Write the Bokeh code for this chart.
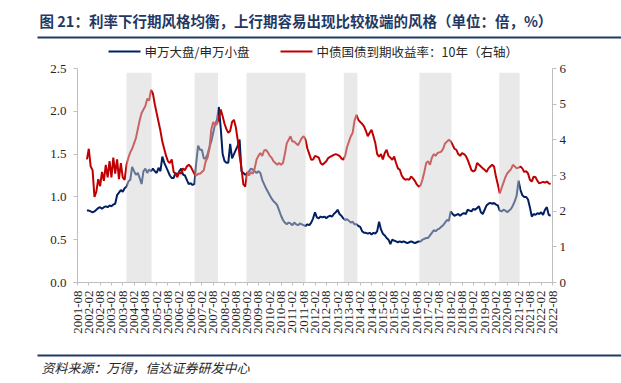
import numpy as np
from bokeh.plotting import figure
from bokeh.layouts import column
from bokeh.models import Range1d, LinearAxis, FixedTicker, PrintfTickFormatter
from bokeh.core.properties import value
from bokeh.embed import file_html
from bokeh.resources import INLINE

# ---------------- data (monthly) ----------------
start_month = "2002-01"

ratio = [  # 申万大盘/申万小盘 (left axis)
    0.84, 0.84, 0.83, 0.82, 0.83, 0.85, 0.87, 0.88, 0.86, 0.88, 0.89, 0.88,  # 2002
    0.90, 0.89, 0.91, 0.92, 1.02, 1.05, 1.08, 1.06, 1.10, 1.12, 1.18, 1.20,  # 2003
    1.35, 1.30, 1.26, 1.28, 1.22, 1.15, 1.30, 1.33, 1.28, 1.32, 1.30, 1.33,  # 2004
    1.30, 1.28, 1.34, 1.30, 1.47, 1.40, 1.35, 1.30, 1.25, 1.22, 1.22, 1.28,  # 2005
    1.25, 1.30, 1.33, 1.26, 1.25, 1.20, 1.15, 1.16, 1.14, 1.15, 1.40, 1.60,  # 2006
    1.55, 1.55, 1.45, 1.45, 1.50, 1.58, 1.65, 1.75, 1.85, 1.90, 2.05, 1.80,  # 2007
    1.50, 1.42, 1.40, 1.40, 1.62, 1.45, 1.50, 1.55, 1.60, 1.67, 1.30, 1.28,  # 2008
    1.26, 1.27, 1.30, 1.33, 1.32, 1.30, 1.28, 1.30, 1.28, 1.20, 1.15, 1.10,  # 2009
    1.06, 1.02, 0.98, 0.95, 0.93, 0.90, 0.84, 0.78, 0.73, 0.70, 0.68, 0.70,  # 2010
    0.69, 0.67, 0.70, 0.68, 0.67, 0.69, 0.68, 0.67, 0.66, 0.68, 0.67, 0.70,  # 2011
    0.75, 0.82, 0.76, 0.75, 0.77, 0.76, 0.77, 0.75, 0.77, 0.78, 0.77, 0.80,  # 2012
    0.82, 0.85, 0.80, 0.78, 0.75, 0.73, 0.74, 0.72, 0.70, 0.71, 0.68, 0.68,  # 2013
    0.66, 0.65, 0.60, 0.58, 0.58, 0.57, 0.58, 0.56, 0.58, 0.57, 0.60, 0.71,  # 2014
    0.62, 0.57, 0.55, 0.52, 0.50, 0.45, 0.50, 0.49, 0.48, 0.47, 0.48, 0.47,  # 2015
    0.48, 0.47, 0.46, 0.47, 0.48, 0.47, 0.46, 0.47, 0.48, 0.48, 0.50, 0.51,  # 2016
    0.52, 0.52, 0.55, 0.58, 0.61, 0.60, 0.62, 0.63, 0.65, 0.67, 0.70, 0.73,  # 2017
    0.72, 0.83, 0.80, 0.78, 0.79, 0.80, 0.78, 0.80, 0.81, 0.80, 0.85, 0.84,  # 2018
    0.83, 0.86, 0.85, 0.87, 0.89, 0.82, 0.80, 0.85, 0.90, 0.92, 0.93, 0.92,  # 2019
    0.93, 0.91, 0.90, 0.84, 0.83, 0.85, 0.84, 0.82, 0.84, 0.86, 0.90, 0.95,  # 2020
    1.02, 1.19, 1.08, 1.02, 1.00, 1.00, 0.97, 0.88, 0.77, 0.80, 0.79, 0.81,  # 2021
    0.80, 0.82, 0.79, 0.85, 0.88, 0.79, 0.78,                                # 2022
]

yield10 = [  # 中债国债到期收益率:10年 (right axis, %)
    3.45, 3.75, 3.25, 3.15, 2.40, 2.55, 2.90, 2.70, 3.10, 2.85, 3.30, 2.95,  # 2002
    3.40, 2.95, 3.50, 3.05, 3.45, 2.90, 3.35, 2.95, 2.88, 3.30, 3.50, 3.65,  # 2003
    3.75, 3.90, 4.05, 4.30, 4.55, 4.75, 4.85, 4.95, 5.15, 5.10, 5.40, 5.30,  # 2004
    5.00, 4.75, 4.50, 4.25, 3.95, 3.75, 3.55, 3.40, 3.35, 3.45, 3.10, 3.05,  # 2005
    2.95, 3.10, 3.05, 3.20, 3.15, 3.25, 3.30, 3.25, 3.15, 3.05, 3.00, 3.05,  # 2006
    3.05, 3.10, 3.15, 3.40, 3.50, 3.75, 4.30, 4.50, 4.40, 4.45, 4.60, 4.85,  # 2007
    4.66, 4.45, 4.30, 4.20, 4.25, 4.50, 4.56, 4.35, 4.00, 3.55, 3.20, 2.75,  # 2008
    2.69, 3.10, 3.00, 3.10, 3.05, 3.20, 3.45, 3.55, 3.63, 3.55, 3.70, 3.72,  # 2009
    3.65, 3.55, 3.50, 3.40, 3.35, 3.30, 3.35, 3.30, 3.35, 3.60, 3.90, 4.00,  # 2010
    4.10, 3.95, 3.95, 3.90, 3.85, 3.95, 4.05, 4.10, 4.00, 3.75, 3.60, 3.44,  # 2011
    3.45, 3.55, 3.53, 3.50, 3.35, 3.30, 3.35, 3.40, 3.49, 3.52, 3.55, 3.58,  # 2012
    3.60, 3.58, 3.55, 3.48, 3.44, 3.55, 3.80, 3.95, 4.10, 4.20, 4.55, 4.70,  # 2013
    4.56, 4.50, 4.45, 4.38, 4.25, 4.10, 4.20, 4.28, 4.10, 3.91, 3.60, 3.53,  # 2014
    3.60, 3.45, 3.63, 3.72, 3.55, 3.50, 3.44, 3.53, 3.35, 3.20, 3.16, 3.00,  # 2015
    2.92, 2.88, 2.90, 2.88, 2.97, 2.92, 2.85, 2.75, 2.69, 2.72, 2.88, 3.10,  # 2016
    3.35, 3.40, 3.30, 3.50, 3.60, 3.55, 3.63, 3.65, 3.67, 3.75, 3.90, 3.95,  # 2017
    4.00, 3.96, 3.86, 3.75, 3.72, 3.60, 3.55, 3.63, 3.60, 3.55, 3.44, 3.30,  # 2018
    3.15, 3.11, 3.15, 3.35, 3.30, 3.25, 3.20, 3.16, 3.10, 3.20, 3.25, 3.30,  # 2019
    3.25, 2.97, 2.75, 2.50, 2.65, 2.80, 2.95, 3.06, 3.12, 3.18, 3.30, 3.25,  # 2020
    3.20, 3.22, 3.25, 3.20, 3.10, 3.12, 3.06, 2.88, 2.83, 2.97, 2.95, 2.85,  # 2021
    2.78, 2.80, 2.82, 2.80, 2.83, 2.78, 2.76,                                # 2022
]

# rising-rate periods (shaded)
shade_start = ["2003-10-01", "2006-10-05", "2009-01-20", "2013-05-10", "2016-09-12", "2020-03-22"]
shade_end = ["2004-11-10", "2007-10-18", "2011-09-01", "2013-12-15", "2018-02-12", "2021-02-18"]

tick_labels = [
    "2001-08", "2002-02", "2002-08", "2003-02", "2003-08", "2004-02", "2004-08",
    "2005-02", "2005-08", "2006-02", "2006-08", "2007-02", "2007-08", "2008-02",
    "2008-08", "2009-02", "2009-08", "2010-02", "2010-08", "2011-02", "2011-08",
    "2012-02", "2012-08", "2013-02", "2013-08", "2014-02", "2014-08", "2015-02",
    "2015-08", "2016-02", "2016-08", "2017-02", "2017-08", "2018-02", "2018-08",
    "2019-02", "2019-08", "2020-02", "2020-08", "2021-02", "2021-08", "2022-02",
    "2022-08",
]

title_text = "图 21：利率下行期风格均衡，上行期容易出现比较极端的风格（单位：倍，%）"
legend_blue = "申万大盘/申万小盘"
legend_red = "中债国债到期收益率：10年（右轴）"
source_text = "资料来源：万得，信达证券研发中心"


def month_index(s):
    """months since 2001-08 (the first axis tick)"""
    y, m = int(s[:4]), int(s[5:7])
    d = int(s[8:10]) if len(s) > 7 else 1
    return (y - 2001) * 12 + (m - 8) + (d - 1) / 30.0


m0 = month_index(start_month)
xs_ratio = m0 + np.arange(len(ratio))
xs_yield = m0 + np.arange(len(yield10))
tick_pos = [month_index(t) for t in tick_labels]

NAVY = "#002060"
RED = "#C00000"
AXIS = "#BFBFBF"
TITLE_C = "#1F3864"
TXT = "#262626"
W = 621
CJK = value("Noto Sans CJK SC")


def blank(height):
    f = figure(width=W, height=height, x_range=Range1d(0, W), y_range=Range1d(height, 0),
               output_backend="svg", toolbar_location=None, title=None,
               x_axis_location=None, y_axis_location=None, min_border=0)
    f.grid.visible = False
    f.outline_line_color = None
    f.frame_align = False
    return f


# page-y layout
HEAD_END = 60       # header figure: 0 .. 60
FRAME_TOP = 68      # plot frame top
FRAME_BOT = 282     # plot frame bottom
MAIN_END = 345      # main figure: 60 .. 345
PAGE_END = 382      # footer figure: 345 .. 382
LEG_Y = 51

# ---------------- header: title, rule, legend ----------------
head = blank(HEAD_END)
head.text(x=[39], y=[20], text=[title_text], text_font=CJK, text_font_style="bold",
          text_font_size="14.5px", text_color=TITLE_C, text_baseline="middle", text_align="left")
head.line([37, W], [37, 37], line_color=TITLE_C, line_width=2)
head.line([108, 140], [LEG_Y, LEG_Y], line_color=NAVY, line_width=2)
head.text(x=[144], y=[LEG_Y], text=[legend_blue], text_font=CJK, text_font_size="12.5px",
          text_color=TXT, text_baseline="middle", text_align="left")
head.line([280, 312], [LEG_Y, LEG_Y], line_color=RED, line_width=2)
head.text(x=[316], y=[LEG_Y], text=[legend_red], text_font=CJK, text_font_size="12.5px",
          text_color=TXT, text_baseline="middle", text_align="left")

# ---------------- main chart ----------------
p = figure(width=W, height=MAIN_END - HEAD_END, output_backend="svg", toolbar_location=None,
           title=None, x_range=Range1d(tick_pos[0], tick_pos[-1]), y_range=Range1d(0, 2.5),
           min_border_left=77, min_border_right=W - 552, min_border_top=FRAME_TOP - HEAD_END,
           min_border_bottom=MAIN_END - FRAME_BOT)
p.frame_align = False
p.extra_y_ranges = {"r": Range1d(0, 6)}
p.xgrid.visible = False
p.ygrid.visible = False
p.outline_line_color = None

p.line(xs_ratio, ratio, line_color=NAVY, line_width=2)
p.line(xs_yield, yield10, line_color=RED, line_width=2, y_range_name="r")

# shaded periods drawn on top (semi-transparent)
p.quad(left=[month_index(s) for s in shade_start], right=[month_index(s) for s in shade_end],
       bottom=0, top=2.45, fill_color="#D0D0D0", fill_alpha=0.48, line_color=None)

raxis = LinearAxis(y_range_name="r", ticker=FixedTicker(ticks=[0, 1, 2, 3, 4, 5, 6]))
p.add_layout(raxis, "right")
p.yaxis[0].ticker = FixedTicker(ticks=[0, 0.5, 1.0, 1.5, 2.0, 2.5])
p.yaxis[0].formatter = PrintfTickFormatter(format="%.1f")
p.xaxis[0].ticker = FixedTicker(ticks=tick_pos)
p.xaxis[0].major_label_overrides = {t: l for t, l in zip(tick_pos, tick_labels)}
p.xaxis[0].major_label_orientation = np.pi / 2

for ax in [p.xaxis[0], p.yaxis[0], raxis]:
    ax.axis_line_color = AXIS
    ax.major_tick_line_color = AXIS
    ax.minor_tick_line_color = None
    ax.major_tick_in = 0
    ax.major_tick_out = 4
    ax.major_label_text_font = "Liberation Serif"
    ax.major_label_text_font_size = "13px"
    ax.major_label_text_color = TXT
p.yaxis[0].major_label_standoff = 7
raxis.major_label_standoff = 3
p.xaxis[0].major_tick_out = 3
p.xaxis[0].major_label_standoff = 5

# ---------------- footer: rule + source ----------------
foot = blank(PAGE_END - MAIN_END)
foot.line([37, W], [355 - MAIN_END] * 2, line_color=TITLE_C, line_width=2)
foot.text(x=[41], y=[367 - MAIN_END], text=[source_text], text_font=CJK,
          text_font_style="italic", text_font_size="13px", text_color=TXT,
          text_baseline="middle", text_align="left")

layout = column(head, p, foot, spacing=0)
open("out.html", "w").write(file_html(layout, INLINE))
